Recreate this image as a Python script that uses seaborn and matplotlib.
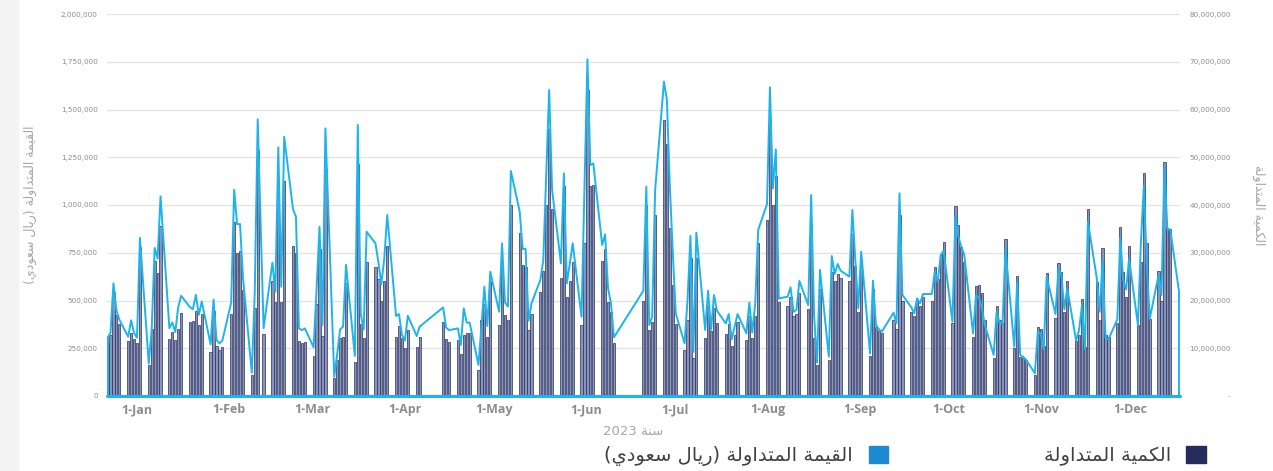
import re
import numpy as np
import pandas as pd
import seaborn as sns
import matplotlib.pyplot as plt
from matplotlib.patches import Patch, Rectangle
from matplotlib.ticker import FuncFormatter

# trading calendar 2023 (Sun-Thu), market holidays
holidays = ['2023-02-22',
            '2023-04-18', '2023-04-19', '2023-04-20', '2023-04-23', '2023-04-24',
            '2023-06-25', '2023-06-26', '2023-06-27', '2023-06-28', '2023-06-29',
            '2023-09-24']

# traded value, thousands of SAR (line, left axis) - one row per week
traded_value_k = [
    305, 330, 590, 450, 400,
    310, 396, 330, 305, 828,
    170, 350, 775, 720, 1045,
    355, 385, 335, 465, 525,
    465, 455, 530, 425, 495,
    270, 505, 295, 275, 290,
    490, 1080, 900, 900, 620,
    122, 540, 1448, 355,
    698, 546, 1302, 572, 1357,
    977, 939, 354, 345, 354,
    255, 560, 886, 372, 1401,
    101, 220, 349, 363, 686,
    209, 1419, 429, 349, 860,
    799, 700, 586, 720, 948,
    419, 429, 319, 290, 420,
    314, 363,
    464, 358, 345,
    354, 267, 459, 384, 384,
    162, 370, 572, 366, 651,
    441, 799, 490, 468, 1178,
    965, 770, 770, 394, 485,
    607, 709, 1150, 1602, 1079,
    695, 1166, 590, 690, 800,
    415, 1090, 1763, 1209, 1218,
    791, 846, 564, 485, 307,
    551, 1096, 372, 415, 1078,
    1646, 1550, 1100, 750, 433,
    276, 500, 838, 230, 855,
    346, 551, 346, 529, 447,
    380, 429, 297, 363, 429,
    328, 489, 332, 485, 869,
    1005, 1616, 1087, 1291, 511,
    520, 569, 441, 450, 602,
    476, 1052, 420, 175, 660,
    206, 733, 639, 691, 656,
    625, 974, 712, 460, 756,
    223, 604, 372, 349, 337,
    436, 380, 1061, 529,
    465, 433, 511, 485, 534,
    534, 651, 598, 738, 761,
    389, 942, 834, 782, 740,
    328, 529, 515, 459, 372,
    215, 441, 384, 377, 773,
    258, 598, 215, 205, 190,
    119, 337, 325, 244, 625,
    429, 668, 634, 454, 564,
    290, 345, 476, 244, 913,
    620, 441, 715, 302, 297,
    401, 830, 607, 558, 720,
    372, 800, 1099, 694, 403,
    633, 529, 1204, 872, 872,
    541,
]

# traded quantity, millions of shares (bars, right axis)
traded_qty_m = [
    11.1, 12.7, 21.8, 16.9, 15.1,
    11.5, 13.2, 12.0, 11.2, 31.2,
    6.4, 14.1, 28.2, 25.8, 35.6,
    11.9, 13.4, 11.7, 14.1, 17.4,
    15.4, 15.8, 17.9, 14.8, 17.2,
    9.2, 17.9, 10.4, 9.6, 10.3,
    17.2, 36.5, 29.9, 30.3, 22.1,
    4.4, 18.4, 51.5, 13.0,
    24.0, 19.6, 44.0, 19.6, 45.1,
    31.4, 30.0, 11.5, 11.0, 11.4,
    8.4, 19.2, 30.8, 12.6, 47.5,
    3.7, 7.5, 12.1, 12.3, 23.7,
    7.2, 48.6, 15.1, 12.1, 28.0,
    27.1, 24.5, 20.0, 24.1, 31.4,
    12.3, 14.6, 12.1, 10.0, 13.8,
    10.3, 12.3,
    15.6, 11.9, 11.4,
    11.7, 8.8, 12.8, 13.1, 13.1,
    5.4, 16.0, 19.3, 12.4, 24.0,
    14.9, 27.2, 17.0, 16.0, 40.0,
    34.2, 27.4, 27.1, 13.8, 17.2,
    21.8, 26.2, 40.0, 56.0, 39.1,
    24.8, 44.0, 20.8, 24.0, 28.0,
    14.9, 32.0, 64.0, 44.0, 44.2,
    28.3, 30.8, 19.6, 17.6, 11.0,
    20.0, 40.0, 13.8, 15.4, 38.0,
    57.8, 52.8, 35.1, 23.2, 15.1,
    9.6, 16.0, 28.8, 8.0, 28.8,
    12.1, 18.8, 13.6, 18.4, 15.2,
    13.0, 15.1, 10.5, 12.8, 15.4,
    11.7, 16.8, 12.1, 16.8, 32.0,
    36.8, 58.0, 40.0, 46.0, 19.6,
    18.8, 20.8, 16.8, 17.2, 21.6,
    18.2, 36.0, 12.1, 6.5, 22.4,
    7.6, 26.0, 24.0, 25.6, 24.8,
    24.0, 34.0, 27.2, 17.6, 28.0,
    8.4, 22.4, 14.4, 13.6, 13.2,
    16.0, 14.0, 38.0, 20.0,
    17.6, 16.8, 20.0, 18.8, 20.8,
    20.0, 27.0, 24.5, 29.7, 32.2,
    15.2, 39.8, 35.8, 31.3, 28.0,
    12.3, 23.0, 23.2, 21.5, 16.0,
    8.0, 18.9, 16.0, 15.2, 32.8,
    10.0, 25.1, 8.2, 7.9, 7.6,
    4.4, 14.5, 14.0, 10.4, 25.8,
    16.4, 27.8, 26.0, 17.6, 24.1,
    11.6, 12.8, 20.4, 10.3, 39.2,
    23.9, 16.0, 30.9, 12.8, 12.4,
    15.2, 35.4, 26.0, 20.8, 31.4,
    14.9, 28.0, 46.8, 32.1, 16.1,
    26.2, 20.0, 49.1, 35.1, 35.0,
    np.nan,
]

value_label = 'القيمة المتداولة (ريال سعودي)'
qty_label = 'الكمية المتداولة'
year_label = 'سنة 2023'
month_labels = ['1-Jan', '1-Feb', '1-Mar', '1-Apr', '1-May', '1-Jun',
                '1-Jul', '1-Aug', '1-Sep', '1-Oct', '1-Nov', '1-Dec']

LINE_C = '#1db4ec'
BAR_C = '#8a93b8'
BAR_EDGE = '#27305f'
LEG_BLUE = '#1d8bd0'
LEG_NAVY = '#252d5c'
GREY = '#8c8c8c'

# matplotlib does no arabic shaping / bidi, so pick the joined glyph forms by hand
FORMS = {
    'ا': ('\uFE8D', '\uFE8E', None, None),
    'ة': ('\uFE93', '\uFE94', None, None),
    'ت': ('\uFE95', '\uFE96', '\uFE97', '\uFE98'),
    'د': ('\uFEA9', '\uFEAA', None, None),
    'ر': ('\uFEAD', '\uFEAE', None, None),
    'س': ('\uFEB1', '\uFEB2', '\uFEB3', '\uFEB4'),
    'ع': ('\uFEC9', '\uFECA', '\uFECB', '\uFECC'),
    'ق': ('\uFED5', '\uFED6', '\uFED7', '\uFED8'),
    'ك': ('\uFED9', '\uFEDA', '\uFEDB', '\uFEDC'),
    'ل': ('\uFEDD', '\uFEDE', '\uFEDF', '\uFEE0'),
    'م': ('\uFEE1', '\uFEE2', '\uFEE3', '\uFEE4'),
    'ن': ('\uFEE5', '\uFEE6', '\uFEE7', '\uFEE8'),
    'و': ('\uFEED', '\uFEEE', None, None),
    'ي': ('\uFEF1', '\uFEF2', '\uFEF3', '\uFEF4'),
}


def ar(text):
    out = []
    for i, ch in enumerate(text):
        if ch not in FORMS:
            out.append(ch)
            continue
        prev = text[i - 1] if i > 0 else ''
        nxt = text[i + 1] if i + 1 < len(text) else ''
        join_prev = prev in FORMS and FORMS[prev][2] is not None
        join_next = FORMS[ch][2] is not None and nxt in FORMS
        iso, fin, ini, med = FORMS[ch]
        if join_prev and join_next:
            out.append(med)
        elif join_prev:
            out.append(fin)
        elif join_next:
            out.append(ini)
        else:
            out.append(iso)
    s = ''.join(out)[::-1].translate(str.maketrans('()', ')('))
    return re.sub(r'\d+', lambda m: m.group()[::-1], s)


trade_days = pd.bdate_range('2023-01-01', '2023-12-31', freq='C',
                            weekmask='Sun Mon Tue Wed Thu', holidays=holidays)
df = pd.DataFrame({'date': trade_days,
                   'value': np.array(traded_value_k) * 1000,
                   'qty': np.array(traded_qty_m) * 1e6})

sns.set_theme(style='white')
plt.rcParams['font.family'] = ['DejaVu Sans']

fig = plt.figure(figsize=(12.73, 4.71), dpi=100)
fig.patches.append(Rectangle((0, 0), 18 / 1273, 1, transform=fig.transFigure,
                             color='#f3f3f3', zorder=0))
ax = fig.add_axes([106.7 / 1273, 75 / 471, 1073.3 / 1273, 382 / 471])
ax2 = ax.twinx()

# bars (quantity) on the right axis, underneath
ax2.bar(df['date'], df['qty'], width=0.75, color=BAR_C, edgecolor=BAR_EDGE, linewidth=0.5)
ax2.set_ylim(0, 80_000_000)
ax2.set_yticks(np.arange(0, 80_000_001, 10_000_000))
ax2.yaxis.set_major_formatter(FuncFormatter(lambda v, p: '-' if v == 0 else f'{v:,.0f}'))
ax2.grid(axis='y', color='#e2e2e2', linewidth=0.9)
ax2.set_axisbelow(True)
ax2.tick_params(axis='y', length=0, pad=36.5, labelsize=5.2, labelcolor=GREY)
for t in ax2.get_yticklabels():
    t.set_ha('right')
ax2.set_ylabel(ar(qty_label), fontsize=9, color='#a6a6a6')
ax2.yaxis.label.set_rotation(-90)
ax2.yaxis.label.set_va('bottom')
ax2.yaxis.set_label_coords((1252 - 106.7) / 1073.3, 0.5)

# line (value) on the left axis, on top
ax.set_zorder(ax2.get_zorder() + 1)
ax.patch.set_visible(False)
sns.lineplot(data=df, x='date', y='value', ax=ax, color=LINE_C, linewidth=1.4)
ax.axhline(0, color=LINE_C, linewidth=2.2, clip_on=False)
ax.vlines([df['date'].iloc[0], df['date'].iloc[-1]], 0,
          [df['value'].iloc[0], df['value'].iloc[-1]], color=LINE_C, linewidth=1.4)
ax.set_ylim(0, 2_000_000)
ax.set_yticks(np.arange(0, 2_000_001, 250_000))
ax.yaxis.set_major_formatter(FuncFormatter(lambda v, p: f'{v:,.0f}'))
ax.tick_params(axis='y', length=0, pad=6.5, labelsize=5.2, labelcolor=GREY)
ax.set_ylabel(ar(value_label), fontsize=9, color='#a6a6a6')
ax.yaxis.set_label_coords((37 - 106.7) / 1073.3, 0.5)
ax.grid(False)

# month labels sit 10-13 days right of the month start in the original
month_starts = pd.date_range('2023-01-01', '2023-12-01', freq='MS')
ax.set_xlim(trade_days[0] - pd.Timedelta(hours=7), trade_days[-1] + pd.Timedelta(hours=7))
ax.set_xticks(month_starts + pd.to_timedelta(np.linspace(10, 13.5, 12), unit='D'))
ax.set_xticklabels(month_labels, fontsize=9, fontweight='bold', color=GREY,
                   family=['Open Sans', 'DejaVu Sans'])
ax.tick_params(axis='x', length=0, pad=5)
ax.set_xlabel(ar(year_label), fontsize=9.5, color='#a6a6a6', labelpad=4)
ax.xaxis.set_label_coords((633 - 106.7) / 1073.3, -0.075)

for a in (ax, ax2):
    for s in a.spines.values():
        s.set_visible(False)

fig.legend(handles=[Patch(color=LEG_BLUE), Patch(color=LEG_NAVY)],
           labels=[ar(value_label), ar(qty_label)],
           ncol=2, markerfirst=False, frameon=False, loc='center',
           bbox_to_anchor=(905 / 1273, 1 - 456 / 471),
           fontsize=14, labelcolor='#404040', handlelength=1.0, handleheight=1.0,
           handletextpad=0.8, columnspacing=8.0)

fig.savefig('out.png', dpi=100)
